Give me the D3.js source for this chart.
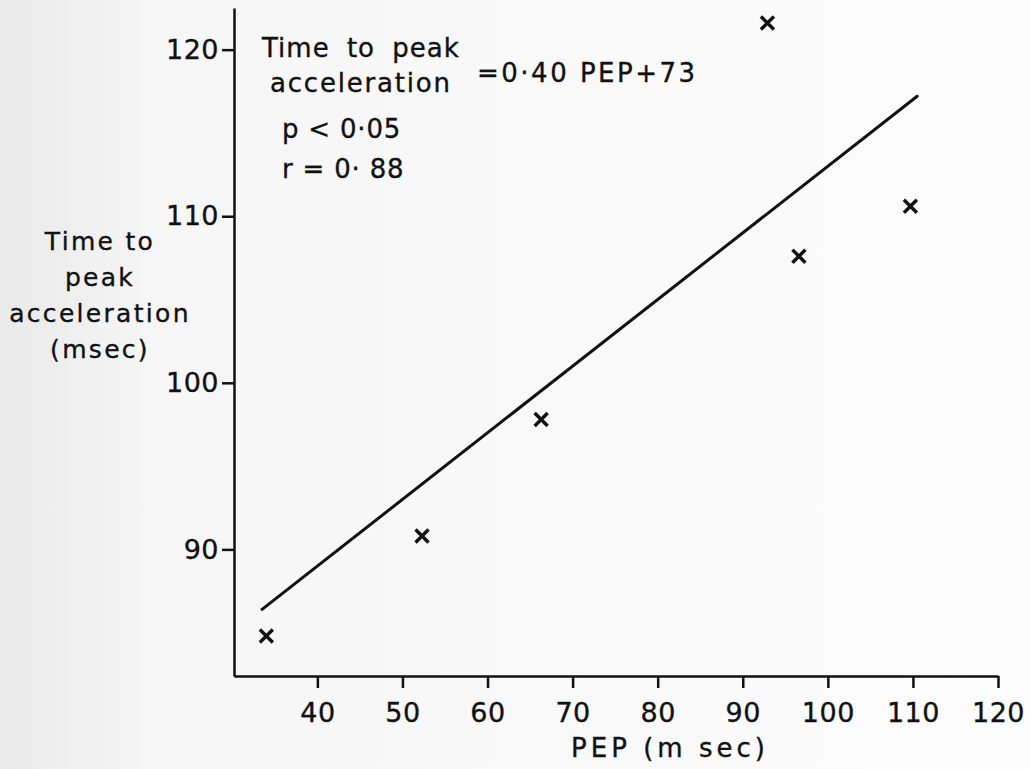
<!DOCTYPE html>
<html>
<head>
<meta charset="utf-8">
<script src="https://cdn.jsdelivr.net/npm/d3@7"></script>
<style>
  html, body { margin: 0; padding: 0; background: #fbfbfb; }
  svg { display: block; }
  text { font-family: "DejaVu Sans", sans-serif; fill: #111; stroke: #111; stroke-width: 0.35px; }
</style>
</head>
<body>
<svg id="chart" width="1031" height="769"></svg>
<script>
// PEP (msec) against time to peak acceleration (msec)
const pep = [34.0, 52.3, 66.3, 92.9, 96.6, 109.7];
const timeToPeak = [84.8, 90.8, 97.8, 121.6, 107.6, 110.6];

// Regression line: slope, intercept, and the PEP span it is drawn over
const fitCoef = [0.40, 73];
const fitRange = [33.5, 110.5];

const xTicks = [40, 50, 60, 70, 80, 90, 100, 110, 120];
const yTicks = [90, 100, 110, 120];

const yTitleLines = ["Time to", "peak", "acceleration", "(msec)"];
const xTitle = "PEP (m sec)";
const statLines = ["p < 0·05", "r = 0· 88"];

const svg = d3.select("#chart");
const ink = "#111";

// paper tone, slightly darker towards the left edge
const defs = svg.append("defs");
const grad = defs.append("linearGradient").attr("id", "paper")
  .attr("x1", "0").attr("x2", "1").attr("y1", "0").attr("y2", "0");
grad.append("stop").attr("offset", "0").attr("stop-color", "#e9e9e9");
grad.append("stop").attr("offset", "0.15").attr("stop-color", "#f6f6f6");
grad.append("stop").attr("offset", "1").attr("stop-color", "#fcfcfc");
svg.append("rect").attr("width", 1031).attr("height", 769).attr("fill", "url(#paper)");

const x = d3.scaleLinear().domain([30.2, 120]).range([234, 998]);
const y = d3.scaleLinear().domain([82.4, 122.5]).range([676, 8]);

// axes
const xAxis = svg.append("g")
  .attr("transform", `translate(0,${y(82.4)})`)
  .call(d3.axisBottom(x).tickValues(xTicks).tickFormat(d3.format("d"))
    .tickSize(12).tickSizeOuter(0).tickPadding(15));
const yAxis = svg.append("g")
  .attr("transform", `translate(${x(30.2)},0)`)
  .call(d3.axisLeft(y).tickValues(yTicks).tickFormat(d3.format("d"))
    .tickSize(12).tickSizeOuter(0).tickPadding(3));

[xAxis, yAxis].forEach(g => {
  g.select(".domain").attr("stroke", ink).attr("stroke-width", 2.5);
  g.selectAll(".tick line").attr("stroke", ink).attr("stroke-width", 2.5);
  g.selectAll(".tick text")
    .style("font-family", "'DejaVu Sans', sans-serif")
    .style("font-size", "27px").style("letter-spacing", "0.5px")
    .attr("fill", ink);
});

// regression line from the stated equation
const fit = v => fitCoef[0] * v + fitCoef[1];
svg.append("line")
  .attr("x1", x(fitRange[0])).attr("y1", y(fit(fitRange[0])))
  .attr("x2", x(fitRange[1])).attr("y2", y(fit(fitRange[1])))
  .attr("stroke", ink).attr("stroke-width", 3).attr("stroke-linecap", "round");

// cross markers
const h = 6.5;
const pts = pep.map((p, i) => ({ p, t: timeToPeak[i] }));
const marks = svg.append("g").selectAll("g").data(pts).join("g")
  .attr("transform", d => `translate(${x(d.p)},${y(d.t)})`);
marks.append("path")
  .attr("d", `M${-h},${-h}L${h},${h}M${-h},${h}L${h},${-h}`)
  .attr("stroke", ink).attr("stroke-width", 3.4).attr("fill", "none");

// y axis title
svg.append("text")
  .attr("text-anchor", "middle")
  .style("font-size", "25px").style("letter-spacing", "2.3px")
  .selectAll("tspan").data(yTitleLines).join("tspan")
  .attr("x", 100).attr("y", (d, i) => 250 + i * 36)
  .text(d => d);

// x axis title
svg.append("text")
  .attr("x", 670).attr("y", 757)
  .attr("text-anchor", "middle")
  .style("font-size", "26px").style("letter-spacing", "4px")
  .text(xTitle);

// equation and statistics
const ann = svg.append("g").style("font-size", "26px");
ann.append("text").attr("x", 262).attr("y", 57)
  .style("letter-spacing", "1px").style("word-spacing", "8px").text("Time to peak");
ann.append("text").attr("x", 270).attr("y", 92)
  .style("letter-spacing", "1.8px").text("acceleration");
ann.append("text").attr("x", 477).attr("y", 82)
  .style("letter-spacing", "2.5px")
  .text(`=${d3.format(".2f")(fitCoef[0]).replace(".", "·")} PEP+${fitCoef[1]}`);
ann.selectAll("text.stat").data(statLines).join("text")
  .attr("class", "stat")
  .attr("x", 282).attr("y", (d, i) => 138 + i * 40)
  .style("letter-spacing", "0.8px")
  .text(d => d);
</script>
</body>
</html>
